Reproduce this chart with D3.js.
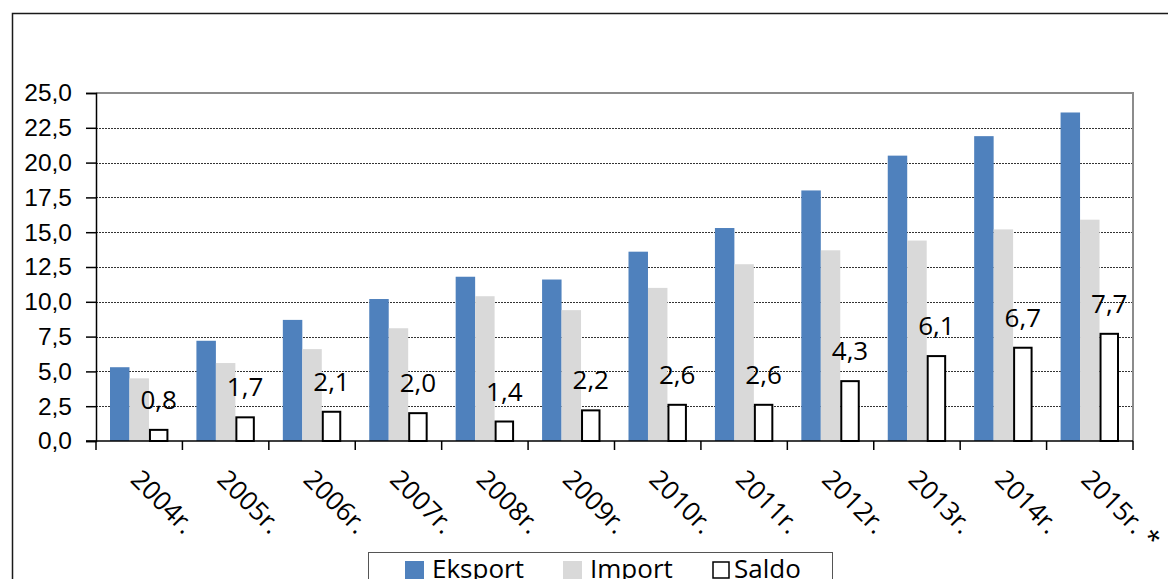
<!DOCTYPE html>
<html>
<head>
<meta charset="utf-8">
<script src="https://cdn.jsdelivr.net/npm/d3@7"></script>
<style>
    body { margin: 0; background: #fff; }
    svg { display: block; font-family: "Open Sans", "Liberation Sans", sans-serif; }
</style>
</head>
<body>
<div id="chart"></div>
<script>
// data (mld, comma decimals)
const years = ["2004r.", "2005r.", "2006r.", "2007r.", "2008r.", "2009r.", "2010r.", "2011r.", "2012r.", "2013r.", "2014r.", "2015r. *"];
const eksport = [5.3, 7.2, 8.7, 10.2, 11.8, 11.6, 13.6, 15.3, 18.0, 20.5, 21.9, 23.6];
const importVals = [4.5, 5.6, 6.6, 8.1, 10.4, 9.4, 11.0, 12.7, 13.7, 14.4, 15.2, 15.9];
const saldo = [0.8, 1.7, 2.1, 2.0, 1.4, 2.2, 2.6, 2.6, 4.3, 6.1, 6.7, 7.7];
const yTicks = [0, 2.5, 5, 7.5, 10, 12.5, 15, 17.5, 20, 22.5, 25];
const seriesNames = ["Eksport", "Import", "Saldo"];

const SETTINGS = {
    width: 1168,
    height: 579,
    plot: {left: 96, right: 1133, top: 93, bottom: 441},
    colors: {Eksport: "#4F81BD", Import: "#D9D9D9", Saldo: "#FFFFFF"}
};

const plLocale = d3.formatLocale({decimal: ",", thousands: " ", grouping: [3], currency: ["", ""]});
const fmt = plLocale.format(".1f");

const svg = d3.select("#chart")
    .append("svg")
    .attr("width", SETTINGS.width)
    .attr("height", SETTINGS.height);

const p = SETTINGS.plot;

//outer chart frame, runs off the right and bottom edge like in the source
svg.append("rect")
    .attr("x", 12.5).attr("y", 13.5)
    .attr("width", 1200).attr("height", 700)
    .attr("fill", "none")
    .attr("stroke", "#1a1a1a")
    .attr("stroke-width", 1.5);

const x = d3.scaleBand()
    .domain(years)
    .range([p.left, p.right])
    .padding(0);

const bw = x.bandwidth();
const xSub = d3.scaleBand()
    .domain(seriesNames)
    .range([bw * 0.162, bw * 0.838])
    .padding(0);

const y = d3.scaleLinear()
    .domain([0, 25])
    .range([p.bottom, p.top]);

//gridlines (dashed), top one is the plot border
svg.append("g")
    .selectAll("line")
    .data(yTicks.filter(t => t > 0 && t < 25))
    .join("line")
    .attr("x1", p.left).attr("x2", p.right)
    .attr("y1", d => Math.round(y(d)) + 0.5)
    .attr("y2", d => Math.round(y(d)) + 0.5)
    .attr("stroke", "#333")
    .attr("stroke-width", 1)
    .attr("stroke-dasharray", "2,1");

//plot border top and right (gray)
svg.append("path")
    .attr("d", `M${p.left},${y(25)}H${p.right}V${p.bottom}`)
    .attr("fill", "none")
    .attr("stroke", "#8c8c8c")
    .attr("stroke-width", 2);

//bars
const rows = years.map((yr, i) => ({year: yr, Eksport: eksport[i], Import: importVals[i], Saldo: saldo[i]}));

const groups = svg.append("g")
    .selectAll("g")
    .data(rows)
    .join("g")
    .attr("transform", d => `translate(${x(d.year)},0)`);

groups.append("rect")
    .attr("x", xSub("Eksport"))
    .attr("y", d => y(d.Eksport))
    .attr("width", xSub.bandwidth())
    .attr("height", d => y(0) - y(d.Eksport))
    .attr("fill", SETTINGS.colors.Eksport);

groups.append("rect")
    .attr("x", xSub("Import"))
    .attr("y", d => y(d.Import))
    .attr("width", xSub.bandwidth())
    .attr("height", d => y(0) - y(d.Import))
    .attr("fill", SETTINGS.colors.Import);

groups.append("rect")
    .attr("x", xSub("Saldo") + 1)
    .attr("y", d => y(d.Saldo))
    .attr("width", xSub.bandwidth() - 2)
    .attr("height", d => y(0) - y(d.Saldo))
    .attr("fill", SETTINGS.colors.Saldo)
    .attr("stroke", "#000")
    .attr("stroke-width", 2);

//saldo value labels
groups.append("text")
    .attr("x", xSub("Saldo") + xSub.bandwidth() / 2)
    .attr("y", d => y(d.Saldo) - 21)
    .attr("text-anchor", "middle")
    .attr("font-size", 26)
    .attr("fill", "#000")
    .text(d => fmt(d.Saldo));

//y axis
const yAxis = d3.axisLeft(y)
    .tickValues(yTicks)
    .tickSize(10)
    .tickPadding(14)
    .tickFormat(fmt);

const yG = svg.append("g")
    .attr("transform", `translate(${p.left},0)`)
    .call(yAxis);
yG.select(".domain").attr("stroke", "#000").attr("stroke-width", 1.5);
yG.selectAll(".tick line").attr("stroke", "#000").attr("stroke-width", 1.5);
yG.selectAll(".tick text").attr("font-size", 24.5).attr("fill", "#000").attr("font-family", null);

//x axis: ticks at band edges, labels rotated
const xG = svg.append("g");
xG.append("line")
    .attr("x1", p.left - 10).attr("x2", p.right)
    .attr("y1", p.bottom).attr("y2", p.bottom)
    .attr("stroke", "#000").attr("stroke-width", 1.5);

const edges = years.map(d => x(d)).concat([p.right]);
xG.selectAll("line.edge")
    .data(edges)
    .join("line")
    .attr("class", "edge")
    .attr("x1", d => d).attr("x2", d => d)
    .attr("y1", p.bottom).attr("y2", p.bottom + 9)
    .attr("stroke", "#000").attr("stroke-width", 1.5);

xG.selectAll("text")
    .data(years)
    .join("text")
    .attr("transform", d => `translate(${x(d) + bw / 2 - 10},${p.bottom + 40}) rotate(45)`)
    .attr("font-size", 26)
    .attr("fill", "#000")
    .text(d => d);

//legend
const legend = svg.append("g");
legend.append("rect")
    .attr("x", 368.5).attr("y", 552.5)
    .attr("width", 464).attr("height", 60)
    .attr("fill", "#fff")
    .attr("stroke", "#555")
    .attr("stroke-width", 1);

const legendX = [405, 563, 712];
const legendItems = legend.selectAll("g")
    .data(seriesNames)
    .join("g")
    .attr("transform", (d, i) => `translate(${legendX[i]},561)`);

legendItems.append("rect")
    .attr("x", (d, i) => i === 2 ? 1 : 0)
    .attr("y", (d, i) => i === 2 ? 1 : 0)
    .attr("width", (d, i) => i === 2 ? 16 : 19)
    .attr("height", (d, i) => i === 2 ? 16 : 19)
    .attr("fill", d => SETTINGS.colors[d])
    .attr("stroke", d => d === "Saldo" ? "#000" : "none")
    .attr("stroke-width", 1.5);

legendItems.append("text")
    .attr("x", (d, i) => i === 2 ? 22 : 27)
    .attr("y", 17)
    .attr("font-size", 26)
    .attr("fill", "#000")
    .text(d => d);
</script>
</body>
</html>
